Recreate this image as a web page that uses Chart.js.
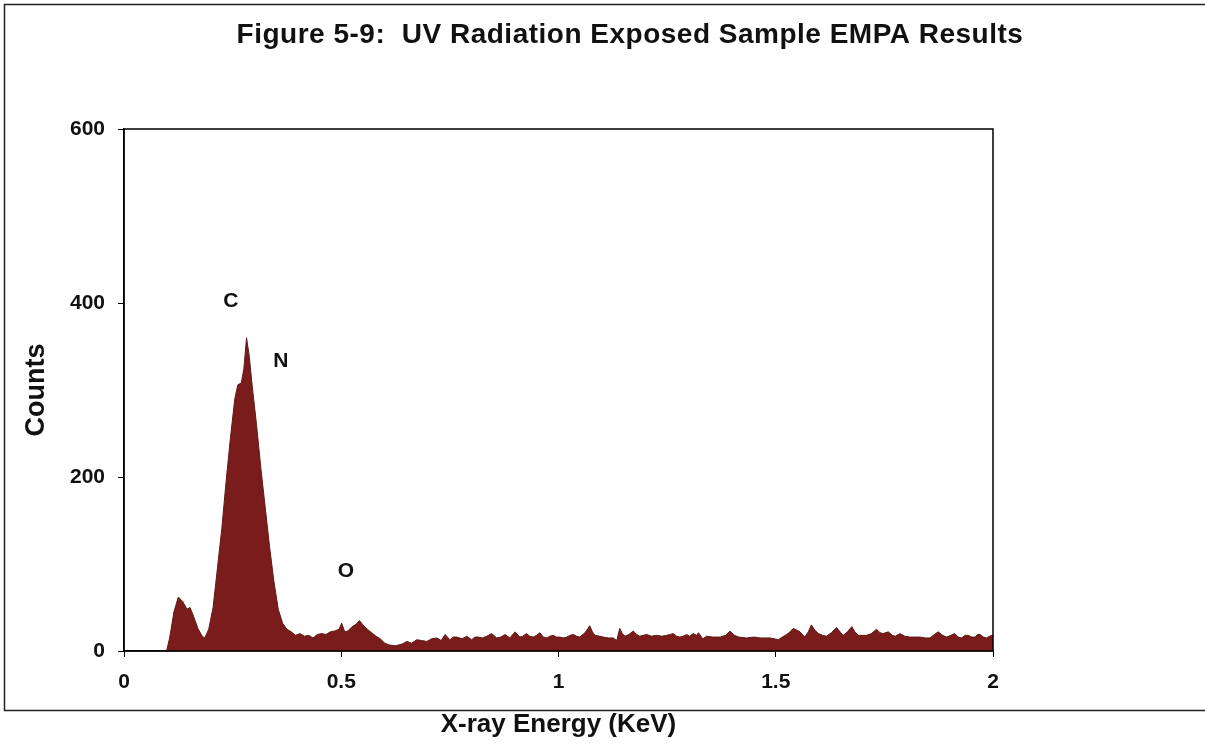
<!DOCTYPE html>
<html>
<head>
<meta charset="utf-8">
<script src="https://cdn.jsdelivr.net/npm/chart.js@4"></script>
<style>
  body { margin: 0; background: #fff; }
  #wrap { width: 1205px; height: 744px; }
</style>
</head>
<body>
<div id="wrap"><canvas id="spectrum" width="1205" height="744"></canvas></div>
<script>
// EMPA spectrum
const energy = [
  0.098, 0.105, 0.115, 0.125, 0.135, 0.145, 0.152, 0.160, 0.170, 0.180,
  0.186, 0.195, 0.205, 0.215, 0.225, 0.235, 0.245, 0.255, 0.262, 0.270,
  0.276, 0.282, 0.288, 0.295, 0.305, 0.315, 0.325, 0.335, 0.345, 0.355,
  0.365, 0.375, 0.385, 0.395, 0.405, 0.415, 0.425, 0.435, 0.445, 0.455,
  0.465, 0.475, 0.485, 0.495, 0.501, 0.508, 0.515, 0.525, 0.535, 0.542,
  0.550, 0.560, 0.570, 0.580, 0.590, 0.600, 0.610, 0.625, 0.640, 0.651,
  0.662, 0.674, 0.685, 0.697, 0.708, 0.720, 0.730, 0.739, 0.750, 0.758,
  0.766, 0.778, 0.789, 0.800, 0.808, 0.816, 0.825, 0.835, 0.846, 0.858,
  0.867, 0.877, 0.888, 0.900, 0.911, 0.918, 0.926, 0.934, 0.942, 0.950,
  0.957, 0.965, 0.973, 0.980, 0.988, 0.995, 1.003, 1.011, 1.019, 1.027,
  1.034, 1.042, 1.049, 1.061, 1.072, 1.078, 1.084, 1.095, 1.103, 1.115,
  1.126, 1.134, 1.141, 1.147, 1.153, 1.162, 1.172, 1.180, 1.187, 1.195,
  1.203, 1.214, 1.226, 1.238, 1.249, 1.257, 1.264, 1.272, 1.279, 1.287,
  1.295, 1.302, 1.310, 1.318, 1.322, 1.332, 1.341, 1.355, 1.372, 1.385,
  1.395, 1.405, 1.415, 1.433, 1.450, 1.464, 1.487, 1.506, 1.515, 1.525,
  1.533, 1.540, 1.548, 1.556, 1.567, 1.575, 1.582, 1.590, 1.598, 1.608,
  1.617, 1.628, 1.640, 1.648, 1.655, 1.665, 1.675, 1.682, 1.690, 1.700,
  1.709, 1.720, 1.732, 1.740, 1.747, 1.759, 1.768, 1.775, 1.786, 1.797,
  1.809, 1.820, 1.832, 1.845, 1.855, 1.865, 1.874, 1.884, 1.893, 1.903,
  1.912, 1.920, 1.928, 1.936, 1.943, 1.951, 1.958, 1.965, 1.970, 1.978,
  1.985, 1.992, 1.997, 2.000
];
const counts = [
  0, 15, 45, 62, 57, 48, 50, 40, 26, 17,
  15, 25, 50, 95, 140, 195, 245, 290, 306, 308,
  325, 360, 340, 305, 260, 210, 165, 120, 80, 48,
  32, 25, 22, 18, 20, 17, 18, 15, 19, 20,
  19, 22, 23, 25, 32, 22, 23, 28, 31, 35,
  30, 25, 21, 17, 14, 9, 7, 6, 8, 11,
  9, 13, 12, 11, 14, 15, 12, 19, 13, 16,
  16, 14, 17, 13, 16, 16, 15, 17, 20, 15,
  16, 19, 15, 22, 16, 17, 20, 17, 16, 18,
  21, 16, 15, 17, 18, 16, 16, 15, 16, 18,
  19, 17, 16, 21, 29, 22, 18, 17, 16, 15,
  15, 12, 26, 20, 17, 19, 23, 19, 17, 18,
  19, 17, 18, 17, 18, 19, 20, 17, 16, 17,
  19, 17, 20, 18, 21, 14, 17, 16, 16, 18,
  23, 18, 16, 15, 16, 15, 15, 13, 16, 19,
  22, 26, 24, 22, 16, 22, 30, 24, 20, 18,
  17, 21, 27, 22, 18, 22, 28, 22, 18, 18,
  18, 20, 25, 21, 20, 22, 18, 17, 20, 17,
  16, 16, 16, 15, 15, 19, 22, 18, 16, 18,
  20, 16, 15, 18, 18, 16, 16, 19, 19, 16,
  15, 17, 18, 18
];
const xTicks = [0, 0.5, 1, 1.5, 2];
const yTicks = [0, 200, 400, 600];
// element labels placed at (energy, counts)
const peakNames = ['C', 'N', 'O'];
const peakEnergy = [0.246, 0.361, 0.511];
const peakCounts = [402, 333, 92];

const FONT = 'Arial, "Liberation Sans", Helvetica, sans-serif';
const fillRed = '#7b1c1c';
const titleText = 'Figure 5-9:  UV Radiation Exposed Sample EMPA Results';

const points = energy.map((e, i) => ({ x: e, y: counts[i] }));

// figure frame, plot box, heading and element labels
const frameAndLabels = {
  id: 'frameAndLabels',
  afterDraw(chart) {
    const { ctx, chartArea: a, scales } = chart;
    ctx.save();
    ctx.strokeStyle = '#222';
    ctx.lineWidth = 1.5;
    ctx.strokeRect(4.5, 4.5, 1215, 706);

    ctx.strokeStyle = '#000';
    ctx.lineWidth = 1.5;
    ctx.strokeRect(a.left, a.top, a.right - a.left, a.bottom - a.top);

    ctx.fillStyle = '#111';
    ctx.textAlign = 'center';
    ctx.textBaseline = 'middle';
    ctx.font = 'bold 28px ' + FONT;
    ctx.letterSpacing = '0.5px';
    ctx.fillText(titleText, 630, 35);
    ctx.letterSpacing = '0px';

    ctx.font = 'bold 21px ' + FONT;
    peakNames.forEach((n, i) => {
      ctx.fillText(n, scales.x.getPixelForValue(peakEnergy[i]), scales.y.getPixelForValue(peakCounts[i]));
    });
    ctx.restore();
  }
};

const ctx = document.getElementById('spectrum').getContext('2d');
const chart = new Chart(ctx, {
  type: 'line',
  data: {
    datasets: [{
      label: 'Counts',
      data: points,
      backgroundColor: fillRed,
      borderColor: '#5e1a14',
      borderWidth: 1,
      fill: 'origin',
      pointRadius: 0,
      tension: 0
    }]
  },
  options: {
    responsive: false,
    devicePixelRatio: 1,
    animation: false,
    layout: { padding: { left: 0, right: 212, top: 129, bottom: 0 } },
    plugins: {
      legend: { display: false },
      tooltip: { enabled: false },
      title: { display: false }
    },
    scales: {
      x: {
        type: 'linear',
        min: 0,
        max: 2,
        afterFit(s) { s.height = 93; },
        afterBuildTicks(s) { s.ticks = xTicks.map(v => ({ value: v })); },
        ticks: {
          color: '#111',
          font: { family: FONT, size: 21, weight: 'bold' },
          padding: 13,
          maxRotation: 0,
          callback: v => String(v)
        },
        grid: { drawOnChartArea: false, drawTicks: true, tickLength: 6, color: '#000', lineWidth: 1 },
        border: { display: true, color: '#000', width: 1.5 },
        title: {
          display: true,
          text: 'X-ray Energy (KeV)',
          color: '#111',
          font: { family: FONT, size: 26, weight: 'bold' },
          padding: { top: 0, bottom: 4 }
        }
      },
      y: {
        type: 'linear',
        min: 0,
        max: 600,
        afterFit(s) { s.width = 124; },
        afterBuildTicks(s) { s.ticks = yTicks.map(v => ({ value: v })); },
        ticks: {
          color: '#111',
          font: { family: FONT, size: 21, weight: 'bold' },
          padding: 13
        },
        grid: { drawOnChartArea: false, drawTicks: true, tickLength: 6, color: '#000', lineWidth: 1 },
        border: { display: true, color: '#000', width: 1.5 },
        title: {
          display: true,
          text: 'Counts',
          color: '#111',
          font: { family: FONT, size: 27, weight: 'bold' },
          padding: { top: 20, bottom: 0 }
        }
      }
    }
  },
  plugins: [frameAndLabels]
});
</script>
</body>
</html>
